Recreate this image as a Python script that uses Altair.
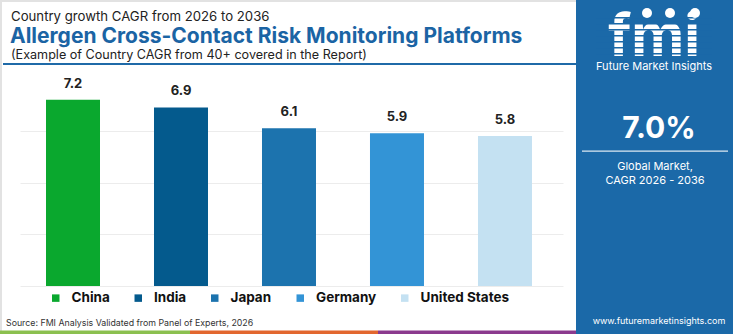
import altair as alt
import pandas as pd

countries = ["China", "India", "Japan", "Germany", "United States"]
cagr = [7.2, 6.9, 6.1, 5.9, 5.8]
bar_colors = ["#0aa82e", "#045a8d", "#1c73ae", "#3394d6", "#c4e1f2"]
grid_values = [0, 1, 2, 3, 4, 5, 6, 7]

FONT = "Inter"
BLUE = "#1b64a4"
PANEL = "#1b69a8"

df = pd.DataFrame({"country": countries, "cagr": cagr})

X0, Y0 = 20, 79  # plot-area origin on the page
PW, PH = 543, 207


def px(x):
    return x - X0


def py(y):
    return y - Y0


one = alt.Data(values=[{"k": 1}])


def text_layer(txt, x, y, size, color, weight="normal", align="left", font=FONT, baseline="middle"):
    return alt.Chart(one).mark_text(
        text=txt, align=align, baseline=baseline, fontSize=size,
        fontWeight=weight, color=color, font=font
    ).encode(x=alt.value(px(x)), y=alt.value(py(y)))


def rect_layer(x1, x2, y1, y2, color, opacity=1.0):
    return alt.Chart(one).mark_rect(color=color, opacity=opacity).encode(
        x=alt.value(px(x1)), x2=alt.value(px(x2)),
        y=alt.value(py(y1)), y2=alt.value(py(y2))
    )


def dot_layer(x, y, size, color):
    return alt.Chart(one).mark_circle(size=size, color=color, opacity=1).encode(
        x=alt.value(px(x)), y=alt.value(py(y))
    )


x_enc = alt.X(
    "country:N", sort=countries, title=None,
    scale=alt.Scale(domain=countries, paddingInner=0.5, paddingOuter=0.264, align=0.456),
    axis=alt.Axis(labels=False, ticks=False, domain=False, grid=False),
)
y_enc = alt.Y(
    "cagr:Q", title=None,
    scale=alt.Scale(domain=[0, 8], nice=False, zero=True),
    axis=alt.Axis(values=grid_values, grid=True, labels=False, ticks=False,
                  domain=False, gridColor="#ececec", gridWidth=1),
)

bars = alt.Chart(df).mark_bar().encode(
    x=x_enc,
    y=y_enc,
    color=alt.Color(
        "country:N",
        scale=alt.Scale(domain=countries, range=bar_colors),
        legend=alt.Legend(
            title=None, orient="none", direction="horizontal",
            legendX=29, legendY=212, symbolType="square", symbolSize=56,
            symbolStrokeWidth=0, labelFont=FONT, labelFontSize=13.5,
            labelFontWeight="bold", labelColor="#111111", columnPadding=21.5,
            labelOffset=9,
        ),
    ),
)

labels = alt.Chart(df).mark_text(
    dy=-9, baseline="bottom", fontSize=13, fontWeight="bold", color="#222222", font=FONT
).encode(
    x=alt.X("country:N", sort=countries),
    y=alt.Y("cagr:Q"),
    text=alt.Text("cagr:Q", format=".1f"),
)

decor = [
    # card border
    rect_layer(0, 2, 0, 334, "#e2e2e2"),
    rect_layer(0, 576, 0, 2, "#e2e2e2"),
    # header rule
    rect_layer(3, 576, 63, 65, "#1f6aa8"),
    # bottom stripes
    rect_layer(0, 190, 330.5, 334, "#8bc04f"),
    rect_layer(190, 378, 330.5, 334, "#e2672f"),
    rect_layer(378, 576, 330.5, 334, "#8b3a8e"),
    # right panel
    rect_layer(576, 733, 0, 334, PANEL),
    rect_layer(582, 728, 150.5, 151.8, "#ffffff", 0.85),
]

texts = [
    text_layer("Country growth CAGR from 2026 to 2036", 11, 17, 13.2, "#222222"),
    text_layer("Allergen Cross-Contact Risk Monitoring Platforms", 10, 36.5, 21, BLUE, "bold"),
    text_layer("(Example of Country CAGR from 40+ covered in the Report)", 11, 55, 12.6, "#222222"),
    text_layer("Source: FMI Analysis Validated from Panel of Experts, 2026", 6, 323, 8.8, "#333333"),
    # panel
    text_layer("fmi", 654, 56, 58, "#ffffff", "bold", "center", baseline="alphabetic"),
    text_layer("Future Market Insights", 654, 67, 11, "#ffffff", "normal", "center"),
    text_layer("7.0%", 659, 129, 30, "#ffffff", "bold", "center"),
    text_layer("Global Market,", 655, 167, 11, "#ffffff", "normal", "center"),
    text_layer("CAGR 2026 - 2036", 655, 181, 11, "#ffffff", "normal", "center"),
    text_layer("www.futuremarketinsights.com", 659, 321, 9, "#ffffff", "normal", "center"),
]

# horizontal stripes through the logo letters
stripes = [rect_layer(596, 712, y, y + 1.6, PANEL) for y in (17, 23, 29, 35, 41, 47, 53)]

dots = [
    dot_layer(647, 13, 100, "#ffffff"),
    dot_layer(670, 13, 100, "#ffffff"),
    dot_layer(695, 13, 100, "#ffffff"),
]

chart = alt.layer(*decor, bars, labels, *texts, *stripes, *dots).properties(
    width=PW, height=PH,
    padding={"left": X0, "top": Y0, "right": 750 - X0 - PW, "bottom": 334 - Y0 - PH},
    autosize=alt.AutoSizeParams(type="none"),
    background="#ffffff",
).configure_view(stroke=None)

chart.save("out.html", embed_options={"renderer": "svg", "actions": False})
